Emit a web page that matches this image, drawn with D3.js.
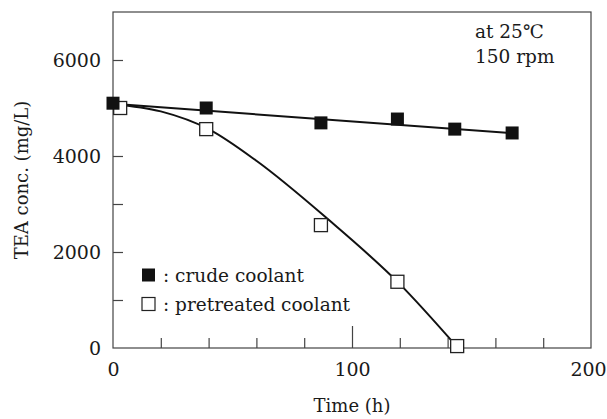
<!DOCTYPE html>
<html><head><meta charset="utf-8">
<script src="https://cdn.jsdelivr.net/npm/d3@7"></script>
<style>
body{margin:0;background:#fff;}
text{font-family:"DejaVu Serif","Liberation Serif",serif;fill:#1a1a1a;}
</style></head>
<body><svg id="c" width="607" height="419"></svg>
<script>
const crudeTime = [0, 39, 87, 119, 143, 167];
const crudeConc = [5100, 5000, 4690, 4770, 4560, 4480];
const preTime = [3, 39, 87, 119, 144];
const preConc = [5000, 4560, 2560, 1380, 40];
const crudeFitTime = [0, 168];
const crudeFitConc = [5090, 4470];
const preFitTime = [0, 20, 40, 60, 90, 120, 144];
const preFitConc = [5080, 4930, 4560, 3900, 2680, 1330, 20];
const xTicks = [0, 100, 200];
const yTicks = [0, 2000, 4000, 6000];
const legendLabels = [": crude coolant", ": pretreated coolant"];
const noteLines = ["at 25\u2103", "150 rpm"];

const svg = d3.select("#c");
const m = {l:113, t:12, r:16, b:71};
const W = 607 - m.l - m.r, H = 419 - m.t - m.b;
const x = d3.scaleLinear().domain([0,200]).range([m.l, m.l+W]);
const y = d3.scaleLinear().domain([0,7000]).range([m.t+H, m.t]);

// frame
svg.append("rect").attr("x",m.l).attr("y",m.t).attr("width",W).attr("height",H)
  .attr("fill","none").attr("stroke","#444").attr("stroke-width",1.2);

// x axis ticks inward
const xg = svg.append("g").attr("transform",`translate(0,${m.t+H})`);
xg.call(d3.axisBottom(x).tickValues(d3.range(0,201,20)).tickSize(0).tickFormat(""));
xg.select(".domain").remove();
xg.selectAll(".tick line").attr("y2", d => (d % 100 === 0 ? -22 : -10)).attr("stroke","#444").attr("stroke-width",1.2);
xg.selectAll(".tick").filter(d => d===0 || d===200).select("line").remove();
const xl = svg.append("g").attr("transform",`translate(0,${m.t+H})`);
xl.call(d3.axisBottom(x).tickValues(xTicks).tickSize(0).tickPadding(15).tickFormat(d3.format("d")));
xl.select(".domain").remove();
xl.selectAll("text").style("font-size","19px").attr("fill","#1a1a1a")
  .attr("dx", d => d === 200 ? "-3" : "0");

// y axis ticks inward
const yg = svg.append("g").attr("transform",`translate(${m.l},0)`);
yg.call(d3.axisLeft(y).tickValues(d3.range(1000,7000,1000)).tickSize(0).tickFormat(""));
yg.select(".domain").remove();
yg.selectAll(".tick line").attr("x2",10).attr("stroke","#444").attr("stroke-width",1.2);
const yl = svg.append("g").attr("transform",`translate(${m.l},0)`);
yl.call(d3.axisLeft(y).tickValues(yTicks).tickSize(0).tickPadding(12).tickFormat(d3.format("d")));
yl.select(".domain").remove();
yl.selectAll("text").style("font-size","19px").attr("fill","#1a1a1a");

// axis titles
svg.append("text").attr("x", x(100)).attr("y", 412).attr("text-anchor","middle")
  .style("font-size","18px").text("Time (h)");
svg.append("text").attr("transform",`translate(28,${y(3500)}) rotate(-90)`).attr("text-anchor","middle")
  .style("font-size","18px").text("TEA conc. (mg/L)");

// fit lines
const line = d3.line().x(d=>x(d[0])).y(d=>y(d[1]));
const curve = d3.line().x(d=>x(d[0])).y(d=>y(d[1])).curve(d3.curveMonotoneX);
svg.append("path").attr("d", line(crudeFitTime.map((t,i)=>[t,crudeFitConc[i]])))
  .attr("fill","none").attr("stroke","#111").attr("stroke-width",2);
svg.append("path").attr("d", curve(preFitTime.map((t,i)=>[t,preFitConc[i]])))
  .attr("fill","none").attr("stroke","#111").attr("stroke-width",2);

// markers
const s = 13;
svg.selectAll(".pre").data(preTime.map((t,i)=>[t,preConc[i]])).enter().append("rect")
  .attr("x",d=>x(d[0])-s/2).attr("y",d=>y(d[1])-s/2).attr("width",s).attr("height",s)
  .attr("fill","#fff").attr("stroke","#222").attr("stroke-width",1.3);
svg.selectAll(".crude").data(crudeTime.map((t,i)=>[t,crudeConc[i]])).enter().append("rect")
  .attr("x",d=>x(d[0])-s/2).attr("y",d=>y(d[1])-s/2).attr("width",s).attr("height",s)
  .attr("fill","#111");

// legend
const lg = svg.append("g");
legendLabels.forEach((lab,i)=>{
  const cy = 275 + i*29;
  lg.append("rect").attr("x",142).attr("y",cy-6.5).attr("width",13).attr("height",13)
    .attr("fill", i===0 ? "#111" : "#fff").attr("stroke", i===0 ? "none" : "#222").attr("stroke-width",1.2);
  lg.append("text").attr("x",163).attr("y",cy+7).style("font-size","18.5px").text(lab);
});

// note
noteLines.forEach((t,i)=>{
  svg.append("text").attr("x",475).attr("y",38+i*25).style("font-size","18.5px").text(t);
});
</script></body></html>
